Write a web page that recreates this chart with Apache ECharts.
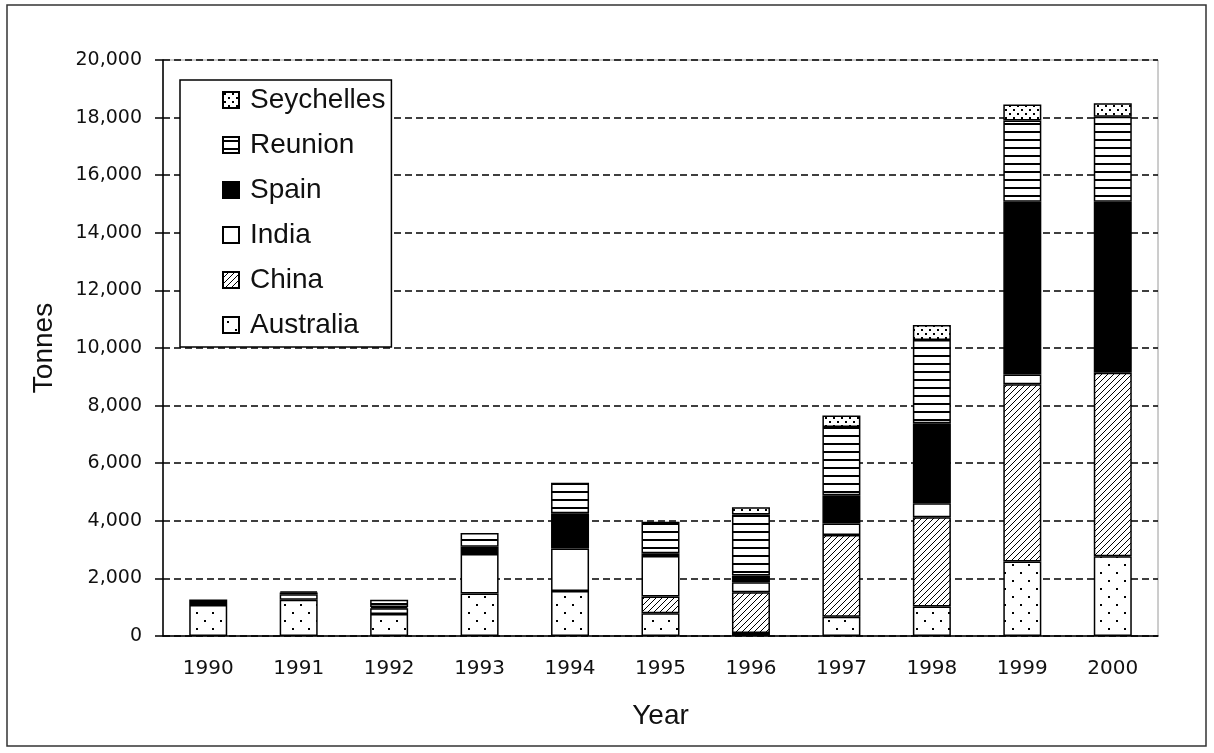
<!DOCTYPE html>
<html>
<head>
<meta charset="utf-8">
<title>Tonnes by year</title>
<script src="https://cdn.jsdelivr.net/npm/echarts@6/dist/echarts.min.js"></script>
<style>
  html, body { margin: 0; padding: 0; background: #fff; }
  #chart { width: 1214px; height: 753px; }
</style>
</head>
<body>
<div id="chart"></div>
<script>
// ---- data ----
const years = ['1990', '1991', '1992', '1993', '1994', '1995', '1996', '1997', '1998', '1999', '2000']
const australia  = [1080, 1260, 760, 1480, 1560, 790, 100, 670, 1020, 2590, 2770]
const china      = [0, 0, 0, 0, 0, 580, 1420, 2840, 3100, 6150, 6370]
const india      = [100, 190, 200, 1370, 1480, 1410, 350, 400, 490, 340, 100]
const spain      = [0, 60, 50, 250, 1220, 90, 230, 980, 2780, 6000, 5840]
const reunion    = [85, 40, 250, 480, 1060, 1100, 2120, 2370, 2890, 2815, 2950]
const seychelles = [0, 0, 0, 0, 0, 0, 250, 400, 520, 560, 470]
const yTicks = [0, 2000, 4000, 6000, 8000, 10000, 12000, 14000, 16000, 18000, 20000]

// ---- black & white fill patterns ----
function makePattern(w, h, draw) {
  const c = document.createElement('canvas')
  c.width = w
  c.height = h
  const ctx = c.getContext('2d')
  ctx.fillStyle = '#fff'
  ctx.fillRect(0, 0, w, h)
  ctx.fillStyle = '#000'
  ctx.strokeStyle = '#000'
  draw(ctx)
  return { image: c, repeat: 'repeat' }
}

const fills = {
  Australia: makePattern(16, 16, ctx => {
    ctx.fillRect(4, 4, 2, 2)
    ctx.fillRect(12, 12, 2, 2)
  }),
  China: makePattern(6, 6, ctx => {
    ctx.lineWidth = 1
    ctx.beginPath()
    ctx.moveTo(0, 6); ctx.lineTo(6, 0)
    ctx.moveTo(-3, 3); ctx.lineTo(3, -3)
    ctx.moveTo(3, 9); ctx.lineTo(9, 3)
    ctx.stroke()
  }),
  India: '#fff',
  Spain: '#000',
  Reunion: makePattern(8, 8, ctx => {
    ctx.fillRect(0, 3, 8, 2)
  }),
  Seychelles: makePattern(8, 8, ctx => {
    ctx.fillRect(1, 1, 2, 2)
    ctx.fillRect(5, 5, 2, 2)
  })
}

const seriesData = [
  ['Australia', australia],
  ['China', china],
  ['India', india],
  ['Spain', spain],
  ['Reunion', reunion],
  ['Seychelles', seychelles]
]

const chart = echarts.init(document.getElementById('chart'), null, { renderer: 'canvas' })

chart.setOption({
  backgroundColor: '#fff',
  animation: false,
  grid: {
    left: 163, top: 60, right: 56, bottom: 117,
    show: true, borderColor: '#9a9a9a', borderWidth: 1, backgroundColor: 'transparent'
  },
  legend: {
    data: ['Seychelles', 'Reunion', 'Spain', 'India', 'China', 'Australia'],
    orient: 'vertical',
    left: 180,
    top: 80,
    padding: [6, 6, 8, 42],
    itemGap: 17,
    itemWidth: 16,
    itemHeight: 16,
    borderColor: '#000',
    borderWidth: 1.5,
    backgroundColor: '#fff',
    icon: 'rect',
    selectedMode: false,
    textStyle: {
      fontFamily: 'Liberation Sans',
      fontSize: 28,
      color: '#111',
      padding: [0, 0, 0, 6]
    }
  },
  xAxis: {
    type: 'category',
    data: years,
    name: 'Year',
    nameLocation: 'middle',
    nameGap: 66,
    nameTextStyle: { fontFamily: 'Liberation Sans', fontSize: 28, color: '#111' },
    axisLine: { lineStyle: { color: '#000', width: 1.5 } },
    axisTick: { length: 8, lineStyle: { color: '#000', width: 1.5 } },
    axisLabel: { margin: 23, fontFamily: 'DejaVu Sans', fontSize: 20, color: '#111' }
  },
  yAxis: {
    type: 'value',
    min: yTicks[0],
    max: yTicks[yTicks.length - 1],
    interval: 2000,
    name: 'Tonnes',
    nameLocation: 'middle',
    nameGap: 105,
    nameTextStyle: { fontFamily: 'Liberation Sans', fontSize: 28, color: '#111' },
    axisLine: { show: true, lineStyle: { color: '#000', width: 1.5 } },
    axisTick: { show: true, length: 8, lineStyle: { color: '#000', width: 1.5 } },
    axisLabel: {
      margin: 21,
      fontFamily: 'DejaVu Sans',
      fontSize: 19,
      color: '#111',
      formatter: v => v.toLocaleString('en-US')
    },
    splitLine: {
      show: true,
      lineStyle: { color: '#000', width: 1.5, type: [7, 4] }
    }
  },
  // zero segments are left out so they draw no stray border line
  series: seriesData.map(([name, values]) => ({
    name,
    type: 'bar',
    stack: 'total',
    barWidth: 38,
    data: values.map(v => (v === 0 ? '-' : v)),
    itemStyle: {
      color: fills[name],
      borderColor: '#000',
      borderWidth: 1.5
    },
    emphasis: { disabled: true }
  })),
  graphic: [
    {
      type: 'rect',
      shape: { x: 7, y: 5, width: 1199, height: 741 },
      style: { fill: 'none', stroke: '#333', lineWidth: 1.5 },
      silent: true,
      z: 100
    }
  ]
})
</script>
</body>
</html>
